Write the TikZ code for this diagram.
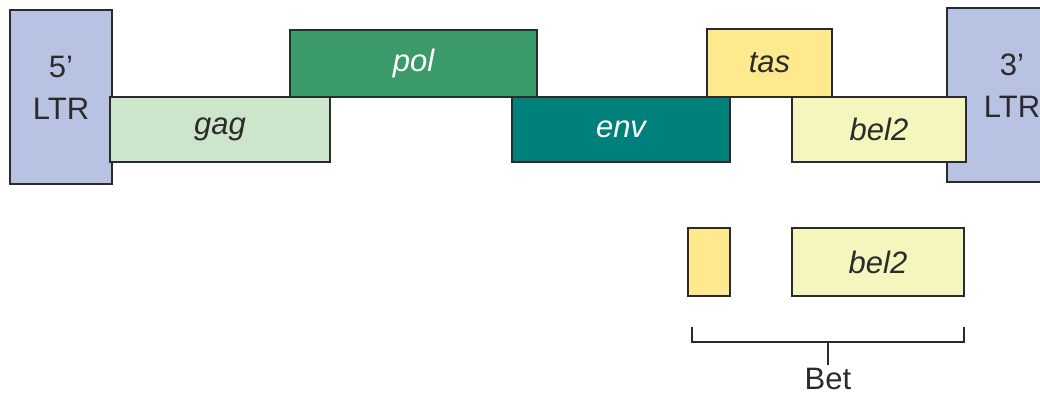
\documentclass[tikz,border=0pt]{standalone}
\usepackage{fontspec}
\setmainfont{Liberation Sans}
\definecolor{ltrcor}{HTML}{B8C3E3}
\definecolor{gagcor}{HTML}{CDE6CB}
\definecolor{polcor}{HTML}{3A9A6A}
\definecolor{envcor}{HTML}{00807A}
\definecolor{tascor}{HTML}{FFE98F}
\definecolor{belcor}{HTML}{F5F5BE}
\definecolor{linha}{HTML}{2B2B2B}
\tikzset{
    caixa/.style={draw=linha, line width=1.3pt, inner sep=0pt, text=linha,
        font=\fontsize{31}{42}\selectfont\itshape},
    ltr/.style={caixa, fill=ltrcor, align=center, text depth=18pt,
        font=\fontsize{31}{42}\selectfont}
}
\begin{document}
\begin{tikzpicture}[x=1pt, y=-1pt]
    \clip (0,0) rectangle (1040,397);

    % LTRs
    \node[ltr, minimum width=102, minimum height=174] (ltr5) at (61,97) {5'\\LTR};
    \node[ltr, minimum width=130, minimum height=174] (ltr3) at (1012,95) {3'\\LTR};

    % Genes
    \node[caixa, fill=polcor, text=white, minimum width=247, minimum height=67] (pol) at (413.5,63.5) {pol};
    \node[caixa, fill=gagcor, minimum width=220, minimum height=65] (gag) at (220,129.5) {gag};
    \node[caixa, fill=envcor, text=white, minimum width=218, minimum height=65] (env) at (621,129.5) {env};
    \node[caixa, fill=tascor, minimum width=125, minimum height=68] (tas) at (769.5,63) {tas};
    \node[caixa, fill=belcor, minimum width=174, minimum height=65] (bel) at (879,129.5) {bel2};

    % Bet
    \node[caixa, fill=tascor, minimum width=42, minimum height=68] (tasbet) at (709,262) {};
    \node[caixa, fill=belcor, minimum width=172, minimum height=68] (belbet) at (878,262) {bel2};

    % Chave
    \coordinate (ca) at (692,327);
    \coordinate (cb) at (964,327);
    \coordinate (cm) at (828,342);
    \node[font=\fontsize{31}{36}\selectfont, text=linha] (bet) at (828,379) {Bet};
    \draw[linha, line width=1.2pt] (ca) -- (ca |- cm) -- (cb |- cm) -- (cb);
    \draw[linha, line width=1.2pt] (cm) -- (bet.north);
\end{tikzpicture}
\end{document}
